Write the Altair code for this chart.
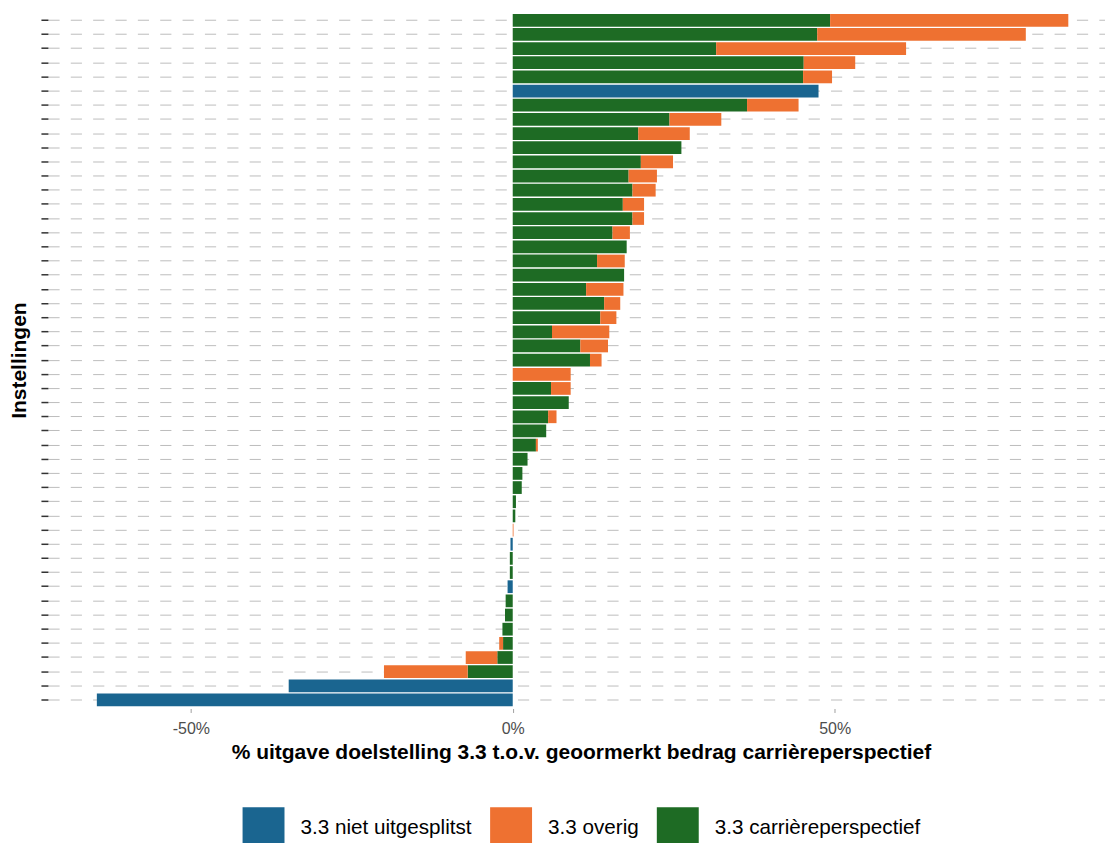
import altair as alt
import pandas as pd

# --- data ---
rows = [f"I{i:02d}" for i in range(1, 51)]

green = [49.3, 47.3, 31.6, 45.2, 45.1, 0, 36.4, 24.35, 19.5, 26.2,
         19.9, 18.0, 18.6, 17.1, 18.6, 15.5, 17.7, 13.1, 17.3, 11.4,
         14.2, 13.6, 6.1, 10.5, 12.0, 0, 5.95, 8.7, 5.5, 5.2,
         3.6, 2.3, 1.5, 1.4, 0.5, 0.4, 0, 0, 0, -0.45,
         -0.45, 0, -1.1, -1.2, -1.6, -1.5, -2.4, -7.0, 0, 0]
orange = [37.0, 32.4, 29.5, 8.0, 4.5, 0, 8.0, 8.05, 8.0, 0,
          5.0, 4.4, 3.6, 3.3, 1.8, 2.7, 0, 4.3, 0, 5.8,
          2.5, 2.5, 8.9, 4.3, 1.8, 9.0, 3.05, 0, 1.3, 0,
          0.3, 0, 0, 0, 0, 0, 0.12, 0, 0, 0,
          0, 0, 0, 0, 0, -0.6, -4.9, -13.0, 0, 0]
blue = [0, 0, 0, 0, 0, 47.5, 0, 0, 0, 0,
        0, 0, 0, 0, 0, 0, 0, 0, 0, 0,
        0, 0, 0, 0, 0, 0, 0, 0, 0, 0,
        0, 0, 0, 0, 0, 0, 0, 0, -0.35, 0,
        0, -0.8, 0, 0, 0, 0, 0, 0, -34.8, -64.6]

categories = ["3.3 niet uitgesplitst", "3.3 overig", "3.3 carrièreperspectief"]
colors = ["#1A6590", "#EE7131", "#1E6B24"]
stack_order = {"3.3 carrièreperspectief": 0, "3.3 overig": 1, "3.3 niet uitgesplitst": 2}

records = []
for name, g, o, b in zip(rows, green, orange, blue):
    for cat, v in ((categories[2], g), (categories[1], o), (categories[0], b)):
        if v != 0:
            records.append({"instelling": name, "reeks": cat, "waarde": v,
                            "volgorde": stack_order[cat]})
df = pd.DataFrame(records)

chart = alt.Chart(df).mark_bar().encode(
    x=alt.X(
        "waarde:Q", stack="zero",
        scale=alt.Scale(domain=[-72.2, 92.0], nice=False, zero=False),
        axis=alt.Axis(
            values=[-50, 0, 50], labelExpr="datum.value + '%'",
            title="% uitgave doelstelling 3.3 t.o.v. geoormerkt bedrag carrièreperspectief",
            grid=False, domain=False, tickSize=4, tickColor="#A0A0A0",
            labelColor="#4D4D4D", labelFontSize=16, labelPadding=8,
            titleFontSize=21, titleFontWeight="bold", titleColor="#000000",
            titlePadding=5, titleX=534,
        ),
    ),
    y=alt.Y(
        "instelling:N", sort=rows,
        scale=alt.Scale(paddingInner=0.1, paddingOuter=0.15),
        axis=alt.Axis(
            labels=False, title="Instellingen", ticks=True, tickSize=7,
            tickColor="#333333", tickWidth=1.5, grid=True,
            gridDash=[11.2, 11.2], gridColor="#BDBDBD", gridWidth=1,
            domain=False, titleFontSize=21, titleFontWeight="bold",
            titleColor="#000000", titlePadding=11,
        ),
    ),
    color=alt.Color(
        "reeks:N",
        scale=alt.Scale(domain=categories, range=colors),
        legend=alt.Legend(
            orient="none", legendX=195, legendY=797,
            direction="horizontal", title=None,
            symbolType="square", symbolSize=1764, symbolStrokeWidth=0,
            symbolOpacity=1, labelFontSize=20.7, labelColor="#000000",
            labelOffset=16, columnPadding=18, labelLimit=0,
        ),
    ),
    order=alt.Order("volgorde:Q"),
).properties(
    width=1059, height=698,
    padding={"left": 0, "top": 3, "right": 0, "bottom": 0},
).configure(
    font="Liberation Sans",
).configure_view(
    stroke=None,
)

chart.save("out.html", embed_options={"renderer": "svg", "actions": False})
